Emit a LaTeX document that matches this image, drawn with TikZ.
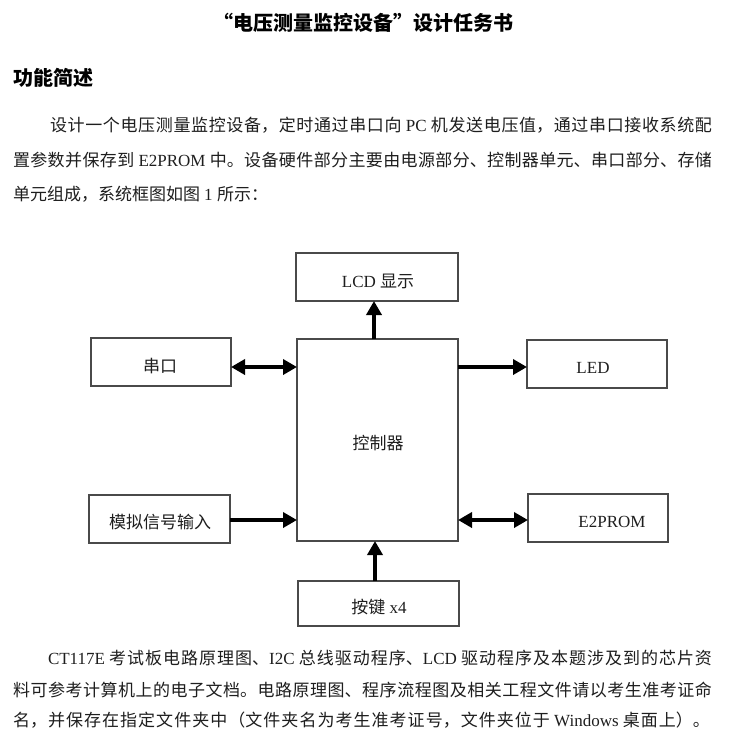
\documentclass[tikz,border=0pt]{standalone}
\usepackage{fontspec}
\setmainfont{Liberation Serif}
\newfontfamily\cjk{Noto Sans CJK SC}
\usetikzlibrary{arrows.meta}
\definecolor{boxgray}{HTML}{4a4a4a}
\definecolor{textgray}{HTML}{1e1e1e}
\newcommand\zh[1]{{\cjk #1}}
\newcommand\jl[2]{\parbox[b]{#1}{\XeTeXlinebreaklocale "zh"\XeTeXlinebreakskip=0pt plus 1fil\relax\parindent=0pt\relax\parfillskip=0pt\relax #2}}
\begin{document}
\begin{tikzpicture}[x=1pt,y=-1pt,
  txt/.style={inner sep=0pt, outer sep=0pt, anchor=base west, text=textgray, font=\fontsize{17pt}{20pt}\selectfont},
  bigtxt/.style={inner sep=0pt, outer sep=0pt, anchor=base west, text=black, font=\fontsize{20pt}{24pt}\selectfont\bfseries},
  blk/.style={draw=boxgray, line width=1.3pt, inner sep=0pt, outer sep=0pt},
  lbl/.style={inner sep=0pt, outer sep=0pt, text=textgray, font=\fontsize{17pt}{20pt}\selectfont},
  arr/.style={line width=4.5pt, -{Triangle[length=14pt,width=15pt]}},
  darr/.style={line width=4.5pt, {Triangle[length=14pt,width=15pt]}-{Triangle[length=14pt,width=15pt]}}]
\useasboundingbox[fill=white] (0,0) rectangle (755,734);

\node[bigtxt] (title) at (213,30.6) {\zh{“电压测量监控设备”设计任务书}};
\node[bigtxt] (head) at (13,85.6) {\zh{功能简述}};

\node[txt] (p1) at (50,131.5) {\jl{662pt}{\zh{设计一个电压测量监控设备，定时通过串口向} PC \zh{机发送电压值，通过串口接收系统配}}};
\node[txt] (p2) at (13,166.5) {\jl{699pt}{\zh{置参数并保存到} E2PROM \zh{中。设备硬件部分主要由电源部分、控制器单元、串口部分、存储}}};
\node[txt] (p3) at (13,200.5) {\zh{单元组成，系统框图如图} 1 \zh{所示：}};

\node[blk, minimum width=162pt, minimum height=48pt] (lcd) at (377,277) {};
\node[blk, minimum width=140pt, minimum height=48pt] (ck) at (161,362) {};
\node[blk, minimum width=161pt, minimum height=202pt] (ctrl) at (377.5,440) {};
\node[blk, minimum width=140pt, minimum height=48pt] (led) at (597,364) {};
\node[blk, minimum width=141pt, minimum height=48pt] (adc) at (159.5,519) {};
\node[blk, minimum width=140pt, minimum height=48pt] (e2) at (598,518) {};
\node[blk, minimum width=161pt, minimum height=45pt] (key) at (378.5,603.5) {};

\node[lbl] (lcdT) at (378,281) {LCD \zh{显示}};
\node[lbl] (ckT) at (160,366) {\zh{串口}};
\node[lbl] (ctrlT) at (378,443) {\zh{控制器}};
\node[lbl] (ledT) at (593,368) {LED};
\node[lbl] (adcT) at (160,522.5) {\zh{模拟信号输入}};
\node[lbl] (e2T) at (612,522) {E2PROM};
\node[lbl] (keyT) at (379,607) {\zh{按键} x4};

\coordinate (lcdA) at ([xshift=-3.5pt]ctrl.north);
\draw[arr] (lcdA) -- (lcdA |- lcd.south);
\coordinate (ckA) at ([yshift=-5pt]ck.east);
\draw[darr] (ckA) -- (ckA -| ctrl.west);
\coordinate (ledA) at ([yshift=-3pt]led.west);
\draw[arr] (ledA -| ctrl.east) -- (ledA);
\coordinate (adcA) at ([yshift=-1pt]adc.east);
\draw[arr] (adcA) -- (adcA -| ctrl.west);
\coordinate (e2A) at ([yshift=-2pt]e2.west);
\draw[darr] (e2A -| ctrl.east) -- (e2A);
\coordinate (keyA) at ([xshift=-3.5pt]key.north);
\draw[arr] (keyA) -- (keyA |- ctrl.south);

\node[txt] (q1) at (48,664.5) {\jl{664pt}{CT117E \zh{考试板电路原理图、}I2C \zh{总线驱动程序、}LCD \zh{驱动程序及本题涉及到的芯片资}}};
\node[txt] (q2) at (13,696.5) {\jl{699pt}{\zh{料可参考计算机上的电子文档。电路原理图、程序流程图及相关工程文件请以考生准考证命}}};
\node[txt] (q3) at (13,726.5) {\jl{697pt}{\zh{名，并保存在指定文件夹中（文件夹名为考生准考证号，文件夹位于} Windows \zh{桌面上）。}}};
\end{tikzpicture}
\end{document}
